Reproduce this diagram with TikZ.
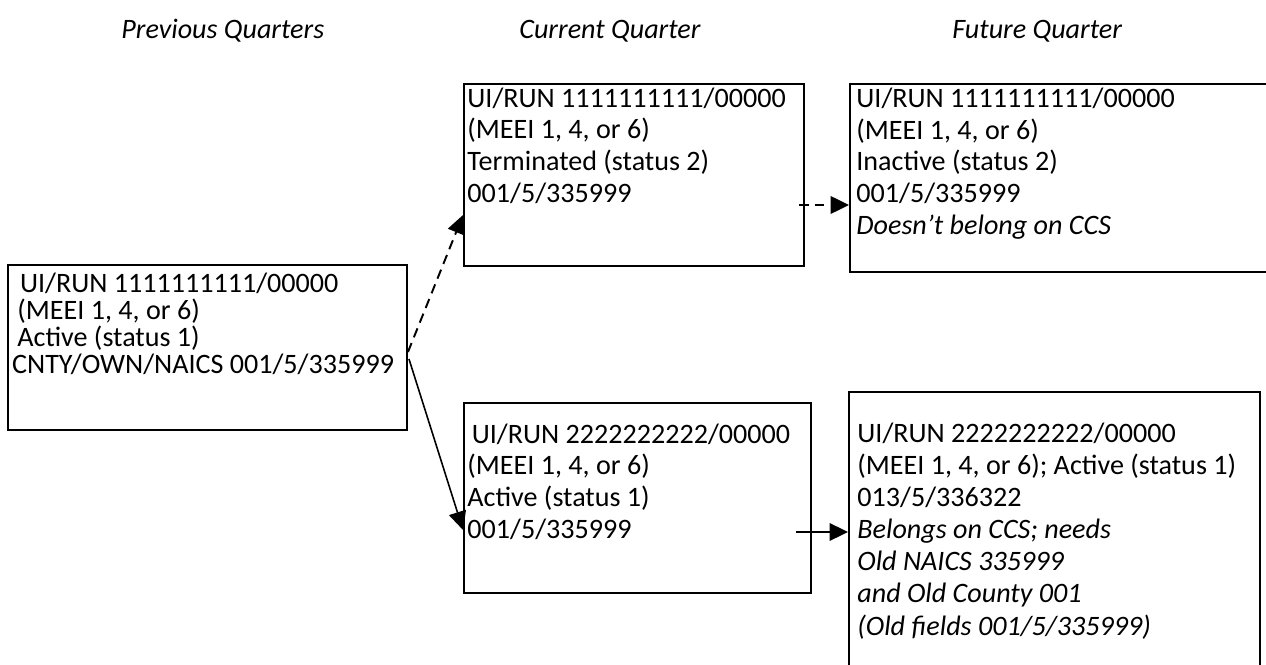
\documentclass[tikz,border=0pt]{standalone}
\usepackage{fontspec}
\setmainfont{Carlito}
\usetikzlibrary{arrows.meta,calc,fit}

\tikzset{
    qbox/.style={draw=black, line width=1.1pt, inner sep=0pt},
    qtext/.style={anchor=base west, inner sep=0pt, align=left,
        font=\fontsize{16}{18}\selectfont},
    qhead/.style={anchor=base west, inner sep=0pt, font=\fontsize{16}{18}\selectfont\itshape},
    solarr/.style={-{Triangle[length=10.5pt,width=10pt]}, black, line width=0.9pt},
    dasharr/.style={solarr, line width=1.1pt, dash pattern=on 5.5pt off 3.5pt},
}

\begin{document}
\begin{tikzpicture}[x=0.02cm, y=-0.02cm]
    \useasboundingbox (0,0) rectangle (1266,665);
    \clip (0,0) rectangle (1266,665);

    % column headings
    \node[qhead] (hprev) at (121,39) {Previous Quarters};
    \node[qhead] (hcur) at (519,39) {Current Quarter};
    \node[qhead] (hfut) at (952,39) {Future Quarter};

    % boxes
    \node[qbox, fit={(8,265) (407,430)}] (prevbox) {};
    \node[qbox, fit={(464,84) (804,266)}] (curtop) {};
    \node[qbox, fit={(464,403) (811,593)}] (curbot) {};
    \node[qbox, fit={(850,84) (1300,272)}] (futtop) {};
    \node[qbox, fit={(849,392) (1260,700)}] (futbot) {};

    % box texts (base = last line)
    \node[qtext, font=\fontsize{16}{15.3}\selectfont] (prevtxt) at ($(prevbox.north west)+(10,109)$)
        {\hspace*{1.5pt}UI/RUN 1111111111/00000\\(MEEI 1, 4, or 6)\\Active (status 1)\\\hspace*{-3pt}CNTY/OWN/NAICS 001/5/335999};
    \node[qtext] (curtoptxt) at ($(curtop.north west)+(4,119)$)
        {UI/RUN 1111111111/00000\\(MEEI 1, 4, or 6)\\Terminated (status 2)\\001/5/335999};
    \node[qtext] (curbottxt) at ($(curbot.north west)+(4,136)$)
        {\hspace*{2.5pt}UI/RUN 2222222222/00000\\(MEEI 1, 4, or 6)\\Active (status 1)\\001/5/335999};
    \node[qtext] (futtoptxt) at ($(futtop.north west)+(7,151)$)
        {UI/RUN 1111111111/00000\\(MEEI 1, 4, or 6)\\Inactive (status 2)\\001/5/335999\\\textit{Doesn't belong on CCS}};
    \node[qtext, font=\fontsize{16}{18.3}\selectfont] (futbottxt) at ($(futbot.north west)+(9,244)$)
        {UI/RUN 2222222222/00000\\(MEEI 1, 4, or 6); Active (status 1)\\013/5/336322\\
         \textit{Belongs on CCS; needs}\\\textit{Old NAICS 335999}\\\textit{and Old County 001}\\\textit{(Old fields 001/5/335999)}};

    % connectors
    \draw[dasharr] ($(prevbox.east)+(0,4.5)$) -- ($(curtop.west)+(0,40)$);
    \draw[solarr] ($(prevbox.east)+(1,11.5)$) -- ($(curbot.west)+(0,32)$);
    \draw[dasharr] ($(curtop.east)+(-6,30)$) -- ($(futtop.west)+(0,27)$);
    \draw[solarr] ($(curbot.east)+(-16,34)$) -- ($(futbot.west)+(0,-14)$);
\end{tikzpicture}
\end{document}
